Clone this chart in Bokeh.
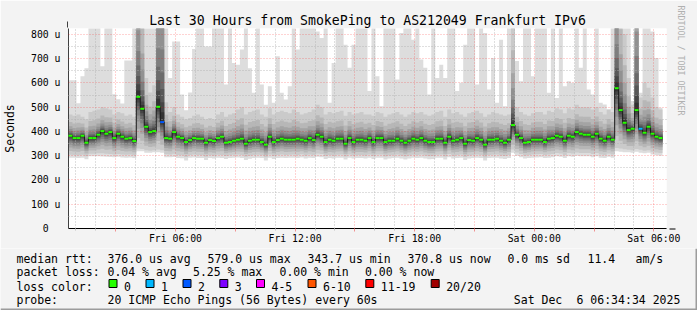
import math
from datetime import datetime, timedelta

from bokeh.plotting import figure
from bokeh.layouts import column
from bokeh.models import FixedTicker, Arrow, NormalHead, Title
from bokeh.core.properties import value
from bokeh.embed import file_html
from bokeh.resources import INLINE

nan = float("nan")

# ---------------- data ----------------
START = datetime(2025, 12, 5, 0, 38)      # left edge of the 30 h window
SPAN_H = 30
BIN_MIN = 12                              # consolidation step (minutes)

TITLE = "Last 30 Hours from SmokePing to AS212049 Frankfurt IPv6"

# median rtt per 12-min bin (microseconds)
median_us = [
    382.2, 372.6, 372.6, 382.2, 353.4, 372.6, 372.6, 386.3, 401.4, 390.4,
    397.3, 372.6, 390.4, 378.1, 369.9, 372.6, 360.3, 542.5, 493.2, 419.2,
    397.3, 401.4, 501.4, 438.4, 372.6, 369.9, 397.3, 378.1, 372.6, 356.2,
    364.4, 372.6, 369.9, 369.9, 353.4, 364.4, 360.3, 372.6, 378.1, 353.4,
    356.2, 361.6, 365.8, 369.9, 349.3, 361.6, 365.8, 365.8, 356.2, 345.2,
    378.1, 356.2, 364.4, 369.9, 365.8, 365.8, 365.8, 369.9, 365.8, 361.6,
    372.6, 364.4, 386.3, 378.1, 356.2, 365.8, 361.6, 369.9, 369.9, 349.3,
    372.6, 356.2, 365.8, 365.8, 361.6, 372.6, 356.2, 372.6, 372.6, 356.2,
    361.6, 361.6, 369.9, 361.6, 353.4, 361.6, 369.9, 365.8, 372.6, 361.6,
    356.2, 356.2, 369.9, 369.9, 353.4, 378.1, 361.6, 365.8, 372.6, 349.3,
    364.4, 361.6, 372.6, 365.8, 345.2, 365.8, 365.8, 369.9, 361.6, 353.4,
    365.8, 426.0, 386.3, 372.6, 353.4, 356.2, 365.8, 365.8, 365.8, 356.2,
    369.9, 372.6, 382.2, 378.1, 361.6, 382.2, 378.1, 397.3, 390.4, 386.3,
    386.3, 378.1, 390.4, 369.9, 361.6, 378.1, 365.8, 578.1, 487.7, 435.6,
    405.5, 411.0, 487.7, 411.0, 394.5, 419.2, 390.4, 378.1, 372.6, nan,
]

# lost pings per bin (0 unless listed)
loss_pings = [0] * 150
loss_pings[23] = 2
loss_pings[143] = 1

# smoke: highest ping, 2nd highest, 2nd lowest, lowest (microseconds)
top_us = [
    611, 611, 516, 627, 660, 830, 830, 830, 668, 830, 830, 553, 533, 515, 692, 692, 830,
    2000, 2000, 830, 830, 830, 2000, 2000,
    830, 620, 770, 770, 552, 487, 560, 740, 830, 830, 750, 750, 830, 830,
    830, 593, 830, 682, 675, 737, 830, 660, 559, 830, 593, 510, 586, 518, 710, 559, 531, 586, 830,
    737, 830, 830, 830, 830, 812, 785, 830, 518, 682, 830, 830, 757, 662, 757, 830, 830, 830,
    566, 830, 627, 504, 830, 830, 830, 614, 805, 830, 830, 778, 830, 696, 662, 552, 830, 620, 675,
    620, 830, 830, 566, 600, 757, 830, 830, 593, 830, 805, 573, 702, 518, 778, 504, 830, 2000, 690,
    607, 830, 830, 627, 830, 830, 830, 559, 830, 538, 830, 586, 607, 600, 830, 662, 830, 573, 552,
    830, 518, 511, 490, 830, 2000, 2000, 830, 830, 525, 2000, 559, 830, 830, 812, 702, 497, nan,
]
hi2_us = [
    470, 465, 470, 460, 450, 480, 485, 490, 500, 495, 490, 470, 480, 475, 465, 470, 460,
    1400, 1000, 620, 560, 590, 1600, 1800,
    520, 480, 500, 470, 460, 450, 455, 465, 470, 460, 450, 455, 450, 470,
    480, 460, 470, 475, 490, 500, 470, 480, 485, 490, 470, 460, 495, 470, 480, 485, 480, 475, 490,
    480, 470, 475, 480, 490, 510, 500, 470, 480, 475, 480, 485, 465, 480, 470, 475, 480, 470,
    470, 465, 480, 475, 460, 470, 475, 480, 470, 460, 470, 480, 475, 480, 470, 465, 470, 480, 485,
    460, 490, 475, 480, 470, 460, 475, 480, 485, 475, 460, 470, 480, 475, 470, 465, 470, 900, 500,
    480, 470, 465, 475, 480, 480, 470, 485, 480, 495, 490, 475, 495, 490, 510, 500, 500, 500, 490,
    500, 480, 470, 490, 480, 1400, 1000, 800, 620, 510, 1500, 540, 600, 580, 540, 500, 490, nan,
]
lo2_us = [
    304, 303, 302, 304, 298, 308, 308, 310, 310, 308, 307, 305, 307, 305, 304, 305, 302,
    330, 328, 322, 320, 322, 325, 322,
    306, 305, 308, 303, 302, 295, 303, 305, 303, 302, 296, 302, 300, 304,
    303, 299, 302, 304, 305, 303, 296, 300, 303, 304, 302, 294, 305, 299, 303, 305, 303, 304, 305,
    303, 306, 301, 305, 303, 309, 307, 299, 303, 301, 304, 305, 297, 305, 301, 303, 303, 301,
    305, 299, 305, 305, 297, 301, 303, 305, 301, 297, 301, 304, 303, 305, 301, 298, 299, 304, 305,
    297, 307, 301, 303, 305, 295, 301, 303, 305, 303, 293, 303, 304, 305, 301, 299, 303, 325, 313,
    307, 301, 303, 305, 306, 307, 303, 305, 307, 311, 309, 303, 311, 309, 313, 311, 311, 311, 307,
    311, 305, 303, 309, 305, 332, 330, 326, 324, 322, 328, 324, 320, 322, 316, 313, 311, nan,
]
bot_us = [
    292, 292, 290, 292, 285, 298, 298, 298, 297, 296, 295, 294, 296, 293, 292, 293, 290,
    318, 318, 312, 312, 314, 314, 312,
    294, 294, 295, 290, 289, 280, 291, 293, 290, 290, 282, 290, 288, 292,
    290, 286, 290, 292, 293, 290, 282, 287, 290, 292, 290, 280, 292, 286, 290, 292, 290, 291, 292,
    290, 293, 288, 292, 290, 296, 294, 286, 290, 288, 291, 292, 284, 292, 288, 290, 290, 288,
    292, 286, 292, 292, 284, 288, 290, 292, 288, 284, 288, 291, 290, 292, 288, 285, 286, 291, 292,
    284, 294, 288, 290, 292, 282, 288, 290, 292, 290, 280, 290, 291, 292, 288, 286, 290, 312, 300,
    294, 288, 290, 292, 293, 294, 290, 292, 294, 298, 296, 290, 298, 296, 300, 298, 298, 298, 294,
    298, 292, 290, 296, 292, 318, 316, 314, 314, 312, 316, 312, 310, 312, 305, 302, 300, nan,
]

y_ticks = [0, 100, 200, 300, 400, 500, 600, 700, 800]
y_labels = ["0\u00a0\u00a0", "100 u", "200 u", "300 u", "400 u", "500 u", "600 u", "700 u", "800 u"]

loss_classes = ["0", "1", "2", "3", "4-5", "6-10", "11-19", "20/20"]
loss_colors = ["#26ff00", "#00b8ff", "#0059ff", "#7e00ff", "#ff00ff", "#ff5500", "#ff0000", "#a10000"]

stats_rtt = ["376.0 us avg", "579.0 us max", "343.7 us min", "370.8 us now", "0.0 ms sd", "11.4", "am/s"]
stats_loss = ["0.04 % avg", "5.25 % max", "0.00 % min", "0.00 % now"]
probe_text = "20 ICMP Echo Pings (56 Bytes) every 60s"
stamp_parts = ["Sat Dec", "6 06:34:34 2025"]

# ---------------- derived ----------------
for arr in (median_us, top_us, hi2_us, lo2_us, bot_us):
    assert len(arr) == 150, len(arr)

n = sum(1 for v in median_us if v == v)
edges = [i * BIN_MIN for i in range(n + 1)]
med = median_us[:n]
top = top_us[:n]
hi2 = [min(a, b) for a, b in zip(hi2_us[:n], top)]
lo2 = lo2_us[:n]
bot = bot_us[:n]


def mins(dt):
    return int(round((dt - START).total_seconds() / 60))


first_hour = START.replace(minute=0) + timedelta(hours=1)
hour_dts = [first_hour + timedelta(hours=k) for k in range(SPAN_H)]
hour_dts = [d for d in hour_dts if mins(d) <= SPAN_H * 60]
major_dts = [d for d in hour_dts if d.hour % 3 == 0]
minor_dts = [d for d in hour_dts if d.hour % 3 != 0]
x_major = [mins(d) for d in major_dts]
x_minor = [mins(d) for d in minor_dts]
x_overrides = {mins(d): (d.strftime("%a %H:%M") if d.hour % 6 == 0 else "") for d in major_dts}


def loss_index(k):
    if k <= 3:
        return k
    if k <= 5:
        return 4
    if k <= 10:
        return 5
    if k <= 19:
        return 6
    return 7


seg_colors = [loss_colors[loss_index(loss_pings[i])] for i in range(n)]


def step_xy(vals):
    xs, ys = [], []
    for i in range(n):
        xs += [edges[i], edges[i + 1]]
        ys += [vals[i], vals[i]]
    return xs, ys


# ---------------- main figure ----------------
W = 697
H_MAIN, H_LEG = 248, 62
FONT = "DejaVu Sans Mono"
BG = "#f3f3f3"

p = figure(width=W, height=H_MAIN, output_backend="svg", toolbar_location=None,
           x_range=(0, SPAN_H * 60), y_range=(0, 824),
           min_border_left=67, min_border_right=30, min_border_top=28, min_border_bottom=20,
           background_fill_color="white", border_fill_color=BG,
           outline_line_color=None)

p.title.text = TITLE
p.title.align = "center"
p.title.text_font = FONT
p.title.text_font_size = "13.2px"
p.title.text_font_style = "normal"
p.title.text_color = "black"
p.title.standoff = 2
p.title.offset = -19.5

# smoke (10 bands, lightest outside); inner bands sit between the median and
# the 2nd-highest / 2nd-lowest pings
fr_up = [None, None, 0.65, 0.45, 0.32, 0.22, 0.15, 0.10, 0.06, 0.03]
fr_dn = [None, None, 0.80, 0.62, 0.48, 0.36, 0.26, 0.18, 0.11, 0.05]
for k in range(10):
    g = int(190 / 10 * (10 - (k + 1))) + 50
    col = "#%02x%02x%02x" % (g, g, g)
    if k == 0:
        lo, hi = bot, top
    elif k == 1:
        lo, hi = lo2, hi2
    else:
        lo = [m - fr_dn[k] * (m - l) for m, l in zip(med, lo2)]
        hi = [m + fr_up[k] * (h - m) for m, h in zip(med, hi2)]
    xs, y1 = step_xy(lo)
    _, y2 = step_xy(hi)
    p.varea(x=xs, y1=y1, y2=y2, fill_color=col, fill_alpha=1.0)

# median line
r1 = p.step(x=edges, y=med + [med[-1]], mode="after", line_color="#1a1a1a", line_width=1)
r2 = p.segment(x0=edges[:-1], x1=edges[1:], y0=med, y1=med, line_color=seg_colors,
               line_width=2, line_cap="butt")
r1.level = "overlay"
r2.level = "overlay"

# axes
p.xaxis.ticker = FixedTicker(ticks=x_major, minor_ticks=x_minor)
p.xaxis.major_label_overrides = x_overrides
p.yaxis.ticker = FixedTicker(ticks=y_ticks, minor_ticks=[t + 50 for t in y_ticks[:-1]])
p.yaxis.major_label_overrides = dict(zip(y_ticks, y_labels))

for ax in (p.xaxis[0], p.yaxis[0]):
    ax.major_label_text_font = FONT
    ax.major_label_text_font_size = "9.8px"
    ax.major_label_text_color = "black"
    ax.axis_line_color = "black"
    ax.major_tick_in = 0
    ax.minor_tick_in = 0

p.xaxis.major_tick_out = 3
p.xaxis.major_tick_line_color = "#f09090"
p.xaxis.minor_tick_out = 2
p.xaxis.minor_tick_line_color = "#c0c0c0"
p.xaxis.major_label_standoff = 1
p.yaxis.major_tick_out = 0
p.yaxis.minor_tick_out = 0
p.yaxis.major_label_standoff = 8
p.yaxis.axis_line_color = "#404040"
p.yaxis.axis_label = "Seconds"
p.yaxis.axis_label_text_font = FONT
p.yaxis.axis_label_text_font_size = "11.5px"
p.yaxis.axis_label_text_font_style = "normal"
p.yaxis.axis_label_text_color = "black"
p.yaxis.axis_label_standoff = 11

for gr in (p.xgrid[0], p.ygrid[0]):
    gr.grid_line_color = "#ff0000"
    gr.grid_line_alpha = 0.35
    gr.grid_line_dash = "1 2"
    gr.minor_grid_line_color = "#b0b0b0"
    gr.minor_grid_line_alpha = 0.8
    gr.minor_grid_line_dash = "1 2"
    gr.level = "annotation"

# watermark on the right side
p.add_layout(Title(text="RRDTOOL / TOBI OETIKER", text_font=FONT, text_font_size="8.3px",
                   text_font_style="normal", text_color="#b0b0b0", align="left",
                   standoff=19, offset=-23), "right")

# arrows at axis ends
ARROW = "#9b1c1c"
p.add_layout(Arrow(end=NormalHead(size=6, fill_color=ARROW, line_color=ARROW),
                   x_start=67, y_start=29, x_end=67, y_end=21,
                   start_units="canvas", end_units="canvas", line_color="#404040"))
p.add_layout(Arrow(end=NormalHead(size=6, fill_color=ARROW, line_color=ARROW),
                   x_start=666, y_start=228.5, x_end=675, y_end=228.5,
                   start_units="canvas", end_units="canvas", line_color="black"))

# ---------------- legend strip (pixel coordinates) ----------------
lf = figure(width=W, height=H_LEG, output_backend="svg", toolbar_location=None,
            x_range=(0, W), y_range=(H_MAIN + H_LEG, H_MAIN),
            min_border_left=0, min_border_right=0, min_border_top=0, min_border_bottom=0,
            background_fill_color=BG, border_fill_color=BG, outline_line_color=None)
lf.axis.visible = False
lf.grid.visible = False
try:
    lf.frame_align = False
    p.frame_align = False
except Exception:
    lf.frame_width = W
    lf.frame_height = H_LEG

L1, L2, L3, L4 = 258.2, 271.8, 286.0, 299.4
tx, ty, tt = [], [], []


def add(x, y, s):
    tx.append(x)
    ty.append(y)
    tt.append(s)


add(16, L1, "median rtt:")
for x, s in zip([107, 207, 307, 407, 507, 587, 635], stats_rtt):
    add(x, L1, s)
add(16, L2, "packet loss:")
for x, s in zip([107, 192.5, 279, 364.5], stats_loss):
    add(x, L2, s)
add(16, L3, "loss color:")
sw_left = [108.5, 145.5, 182.5, 219.3, 256.0, 307.5, 365.3, 430.7]
for xl, lab in zip(sw_left, loss_classes):
    add(xl + 15, L3, lab)
add(16, L4, "probe:")
add(107, L4, probe_text)
add(513.3, L4, stamp_parts[0])
add(576, L4, stamp_parts[1])

lf.text(x=tx, y=ty, text=tt, text_font=value(FONT), text_font_size=value("11.5px"),
        text_color="black", text_align="left", text_baseline="alphabetic")
lf.quad(left=sw_left, right=[v + 8 for v in sw_left], top=[279] * 8, bottom=[287] * 8,
        fill_color=loss_colors, line_color="black", line_width=1)
# bevel at bottom / right edge
lf.quad(left=[0, W - 2], right=[W, W], top=[H_MAIN + H_LEG - 2, H_MAIN],
        bottom=[H_MAIN + H_LEG, H_MAIN + H_LEG], fill_color="#9c9c9c", line_color=None)

layout = column(p, lf, spacing=0)
open("out.html", "w").write(file_html(layout, INLINE))
